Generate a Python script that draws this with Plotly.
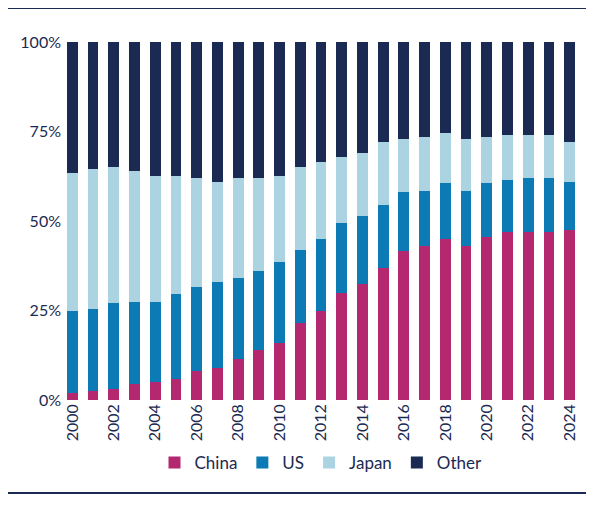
import plotly.graph_objects as go

years = [str(y) for y in range(2000, 2025)]
china = [2, 2.5, 3, 4.5, 5, 6, 8, 9, 11.5, 14, 16, 21.5, 25, 30, 32.5, 37, 41.5, 43, 45, 43, 45.5, 47, 47, 47, 47.5]
us_top = [25, 25.5, 27, 27.5, 27.5, 29.5, 31.5, 33, 34, 36, 38.5, 42, 45, 49.5, 51.5, 54.5, 58, 58.5, 60.5, 58.5, 60.5, 61.5, 62, 62, 61]
japan_top = [63.5, 64.5, 65, 64, 62.5, 62.5, 62, 61, 62, 62, 62.5, 65, 66.5, 68, 69, 72, 73, 73.5, 74.5, 73, 73.5, 74, 74, 74, 72]

us = [b - a for a, b in zip(china, us_top)]
japan = [b - a for a, b in zip(us_top, japan_top)]
other = [100 - a for a in japan_top]

navy = "#1b2a52"
series = [("China", china, "#b3286e"), ("US", us, "#0b7ab5"),
          ("Japan", japan, "#abd3e2"), ("Other", other, navy)]

fig = go.Figure()
for name, vals, col in series:
    fig.add_trace(go.Bar(x=years, y=vals, name=name, marker_color=col, marker_line_width=0))

fig.update_layout(
    barmode="stack", bargap=0.48,
    width=594, height=505,
    margin=dict(l=54, r=22, t=34, b=113),
    plot_bgcolor="white", paper_bgcolor="white",
    font=dict(family="Lato", size=16, color=navy),
    legend=dict(orientation="h", x=0.5, xanchor="center", y=-0.176, yanchor="middle",
                font=dict(size=17), traceorder="normal"),
    shapes=[
        dict(type="line", xref="paper", yref="paper", x0=-0.105, x1=1.016, y0=1.095, y1=1.095,
             line=dict(color=navy, width=2)),
        dict(type="line", xref="paper", yref="paper", x0=-0.105, x1=1.016, y0=-0.26, y1=-0.26,
             line=dict(color=navy, width=2)),
    ],
)
fig.update_xaxes(tickangle=-90, tickvals=years[::2], showgrid=False, ticks="")
fig.update_yaxes(range=[0, 100], tickvals=[0, 25, 50, 75, 100],
                 ticktext=["0%", "25%", "50%", "75%", "100%"], showgrid=False, zeroline=False)

fig.write_html("out.html")
